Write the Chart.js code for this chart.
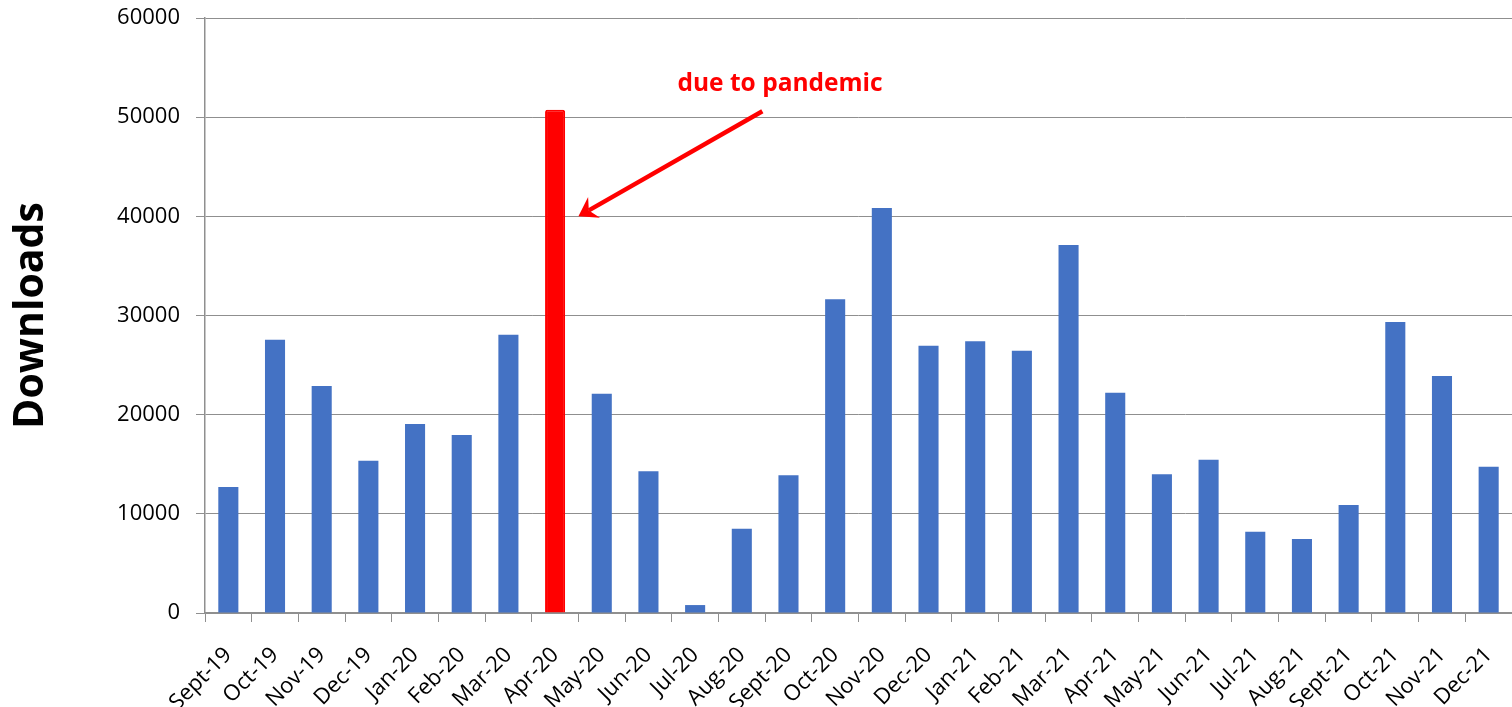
<!DOCTYPE html>
<html>
<head>
<meta charset="utf-8">
<script src="https://cdn.jsdelivr.net/npm/chart.js@4"></script>
<style>
  html, body { margin: 0; padding: 0; background: #fff; }
  #wrap { width: 1512px; height: 707px; }
</style>
</head>
<body>
<div id="wrap"><canvas id="downloadsChart"></canvas></div>
<script>
// months shown on the x axis
const months = ['Sept-19', 'Oct-19', 'Nov-19', 'Dec-19', 'Jan-20', 'Feb-20', 'Mar-20', 'Apr-20',
    'May-20', 'Jun-20', 'Jul-20', 'Aug-20', 'Sept-20', 'Oct-20', 'Nov-20', 'Dec-20',
    'Jan-21', 'Feb-21', 'Mar-21', 'Apr-21', 'May-21', 'Jun-21', 'Jul-21', 'Aug-21',
    'Sept-21', 'Oct-21', 'Nov-21', 'Dec-21'];

// downloads per month
const downloads = [12700, 27550, 22900, 15350, 19050, 17950, 28050, 50750,
    22100, 14300, 800, 8500, 13900, 31650, 40850, 26950,
    27400, 26450, 37100, 22200, 14000, 15450, 8200, 7450,
    10900, 29350, 23900, 14750];

const yTicks = [0, 10000, 20000, 30000, 40000, 50000, 60000];
const highlightMonth = 'Apr-20';
const noteText = 'due to pandemic';

const blue = '#4472C4';
const red = '#FF0000';
const gridColor = '#8f8f8f';

const barColors = months.map(m => m === highlightMonth ? red : blue);
const barBorders = months.map(m => m === highlightMonth ? 2 : 0);
const barRadius = months.map(m => m === highlightMonth ? 2 : 0);

// arrow + text annotation pointing at the highlighted bar
const notePlugin = {
    id: 'note',
    afterDatasetsDraw(chart) {
        const ctx = chart.ctx;
        const x = chart.scales.x;
        const y = chart.scales.y;
        const idx = months.indexOf(highlightMonth);

        const tipX = x.getPixelForValue(idx + 0.5);
        const tipY = y.getPixelForValue(40000);
        const startX = x.getPixelForValue(idx + 4.44);
        const startY = y.getPixelForValue(50600);

        ctx.save();
        ctx.strokeStyle = red;
        ctx.fillStyle = red;
        ctx.lineWidth = 4.5;

        const ang = Math.atan2(tipY - startY, tipX - startX);
        const cos = Math.cos(ang), sin = Math.sin(ang);
        const headLen = 18;
        const headW = 12;
        const notch = 12;

        ctx.beginPath();
        ctx.moveTo(startX, startY);
        ctx.lineTo(tipX - notch * cos, tipY - notch * sin);
        ctx.stroke();

        const bx = tipX - headLen * cos;
        const by = tipY - headLen * sin;
        ctx.beginPath();
        ctx.moveTo(tipX, tipY);
        ctx.lineTo(bx + headW * sin, by - headW * cos);
        ctx.lineTo(tipX - notch * cos, tipY - notch * sin);
        ctx.lineTo(bx - headW * sin, by + headW * cos);
        ctx.closePath();
        ctx.fill();

        ctx.font = 'bold 24.5px "Open Sans", sans-serif';
        ctx.textAlign = 'center';
        ctx.textBaseline = 'middle';
        ctx.fillText(noteText, x.getPixelForValue(idx + 4.82), y.getPixelForValue(53300));
        ctx.restore();
    }
};

const ctx = document.getElementById('downloadsChart').getContext('2d');
new Chart(ctx, {
    type: 'bar',
    data: {
        labels: months,
        datasets: [{
            label: 'Downloads',
            data: downloads,
            backgroundColor: barColors,
            borderColor: barColors,
            borderWidth: barBorders,
            borderRadius: barRadius,
            borderSkipped: 'bottom',
            categoryPercentage: 1.0,
            barPercentage: 0.43
        }]
    },
    options: {
        responsive: true,
        maintainAspectRatio: false,
        animation: false,
        layout: { padding: { top: 18, left: 0, right: 0, bottom: 0 } },
        plugins: {
            legend: { display: false },
            tooltip: { enabled: false }
        },
        scales: {
            x: {
                offset: true,
                afterFit(scale) {
                    scale.height = 94;
                    scale.paddingLeft = 0;
                    scale.paddingRight = 0;
                },
                grid: {
                    display: true,
                    drawOnChartArea: false,
                    drawTicks: true,
                    tickLength: 9,
                    color: gridColor,
                    offset: true
                },
                border: { color: gridColor, width: 1.5 },
                ticks: {
                    color: '#000',
                    font: { family: '"Open Sans", sans-serif', size: 22 },
                    minRotation: 45,
                    maxRotation: 45,
                    autoSkip: false,
                    padding: 20
                }
            },
            y: {
                min: 0,
                max: 60000,
                afterFit(scale) {
                    scale.width = 205;
                    scale.paddingTop = 0;
                    scale.paddingBottom = 0;
                },
                afterBuildTicks(axis) {
                    axis.ticks = yTicks.map(v => ({ value: v }));
                },
                grid: {
                    color: gridColor,
                    lineWidth: 1,
                    tickLength: 9
                },
                border: { color: gridColor, width: 1.5 },
                ticks: {
                    color: '#000',
                    font: { family: '"Open Sans", sans-serif', size: 22 },
                    padding: 16,
                    callback: v => String(v)
                },
                title: {
                    display: true,
                    text: 'Downloads',
                    color: '#000',
                    font: { family: '"Open Sans", sans-serif', size: 41, weight: 'bold' },
                    padding: { top: 7, bottom: 0 }
                }
            }
        }
    },
    plugins: [notePlugin]
});
</script>
</body>
</html>
